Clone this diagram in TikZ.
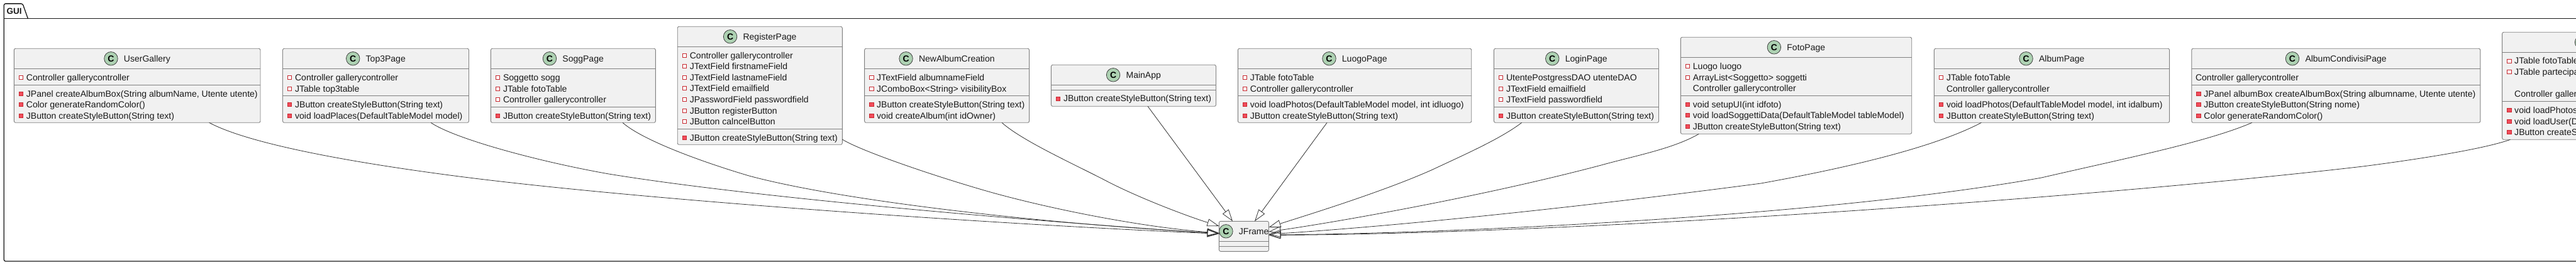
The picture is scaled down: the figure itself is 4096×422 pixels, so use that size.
\documentclass[tikz,border=0pt]{standalone}
\usepackage{fontspec}
\setmainfont{Liberation Sans}
\usetikzlibrary{arrows.meta}
\definecolor{boxfill}{HTML}{F1F1F1}
\definecolor{boxline}{HTML}{808080}
\definecolor{spot}{HTML}{ADD1B2}
\definecolor{privline}{HTML}{C82930}
\definecolor{privfill}{HTML}{F24D5C}
\definecolor{edgecol}{HTML}{333333}
\newcount\memn
\newcommand{\cls}[8]{% name x1 y1 x2 y2 title sep1 sep2
  \pgfmathsetmacro{\boxw}{#4-#2}\pgfmathsetmacro{\boxh}{#5-#3}
  \node[classbox,anchor=north west,minimum width=\boxw pt,minimum height=\boxh pt] (#1) at (#2,#3) {};
  \draw[compart] (#2,#7) -- (#4,#7);
  \draw[compart] (#2,#8) -- (#4,#8);
  \pgfmathsetmacro{\ccx}{(#2+#4)/2}\pgfmathsetmacro{\tty}{#3+21.3}
  \node[txt,anchor=base,font=\fontsize{14}{16}\selectfont] (#1title) at (\ccx,\tty) {\hspace*{31.5pt}#6};
  \node[spotc] (#1spot) at ([xshift=11pt,yshift=5.3pt]#1title.base west) {C};
}
% x1, row centre in 3x crop rows, kind (0 none indented, 1 hollow, 2 filled, 3 none flush), text
\newcommand{\mem}[4]{%
  \global\advance\memn by 1
  \pgfmathsetmacro{\cy}{#2/3}
  \pgfmathsetmacro{\by}{\cy+4.8}
  \pgfmathsetmacro{\ix}{#1+11.2}
  \ifnum#3=1 \path[privh] (\ix-3.2,\cy-3) rectangle (\ix+3.2,\cy+3);\fi
  \ifnum#3=2 \path[privf] (\ix-3.2,\cy-3) rectangle (\ix+3.2,\cy+3);\fi
  \ifnum#3=3 \pgfmathsetmacro{\tx}{#1+6.2}\else\pgfmathsetmacro{\tx}{#1+19.6}\fi
  \node[txt] (mem\the\memn) at (\tx,\by) {#4};
}
\tikzset{
  classbox/.style={draw=boxline,fill=boxfill,line width=0.9pt,rounded corners=2.5pt,inner sep=0pt,outer sep=0pt},
  compart/.style={draw=boxline,line width=0.9pt},
  spotc/.style={circle,draw=black!75,line width=0.8pt,fill=spot,minimum size=21.5pt,inner sep=0pt,font=\fontsize{14}{16}\bfseries\selectfont},
  txt/.style={anchor=base west,inner sep=0pt,outer sep=0pt,font=\fontsize{14.05}{16}\selectfont,text=black!90},
  privh/.style={draw=privline,line width=0.9pt,fill=white},
  privf/.style={draw=privline,line width=0.9pt,fill=privfill},
  pkg/.style={draw=black!90,line width=1.3pt},
  edge/.style={draw=edgecol,line width=0.8pt,-{Triangle[open,length=19pt,width=12pt,line width=0.8pt]}}
}
\begin{document}
\begin{tikzpicture}[x=1pt,y=-1pt]
\useasboundingbox (0,0) rectangle (4096,422);
\fill[white] (0,0) rectangle (4096,422);
\clip (0,0) rectangle (4096,422);
% package
\draw[pkg] (4120,29.3) -- (6.3,29.3);
\draw[pkg,rounded corners=2.5pt] (6.3,29.3) -- (6.3,416) -- (4120,416);
\draw[pkg,rounded corners=2.5pt] (6.3,29.3) -- (6.3,5.9) -- (36,5.9) -- (44.3,29.3);
\node[txt,font=\fontsize{13.5}{16}\bfseries\selectfont] (pkgname) at (10.7,22.7) {GUI};
% classes
\cls{UserGallery}{22.3}{77.3}{414}{195.3}{UserGallery}{109.3}{135.3}
\mem{22.3}{370}{1}{Controller gallerycontroller}
\mem{22.3}{448}{2}{JPanel createAlbumBox(String albumName, Utente utente)}
\mem{22.3}{499}{2}{Color generateRandomColor()}
\mem{22.3}{553}{2}{JButton createStyleButton(String text)}
\cls{TopPage}{449.5}{77.3}{745.5}{195.3}{Top3Page}{109.3}{152.3}
\mem{449.5}{370}{1}{Controller gallerycontroller}
\mem{449.5}{424}{1}{JTable top3table}
\mem{449.5}{499}{2}{JButton createStyleButton(String text)}
\mem{449.5}{553}{2}{void loadPlaces(DefaultTableModel model)}
\cls{SoggPage}{780.4}{77.3}{1042.4}{195.3}{SoggPage}{109.3}{170.3}
\mem{780.4}{370}{1}{Soggetto sogg}
\mem{780.4}{424}{1}{JTable fotoTable}
\mem{780.4}{475}{1}{Controller gallerycontroller}
\mem{780.4}{553}{2}{JButton createStyleButton(String text)}
\cls{RegisterPage}{1077.2}{42.3}{1339.3}{230.3}{RegisterPage}{74.3}{205.3}
\mem{1077.2}{265}{1}{Controller gallerycontroller}
\mem{1077.2}{316}{1}{JTextField firstnameField}
\mem{1077.2}{370}{1}{JTextField lastnameField}
\mem{1077.2}{421}{1}{JTextField emailfield}
\mem{1077.2}{475}{1}{JPasswordField passwordfield}
\mem{1077.2}{529}{1}{JButton registerButton}
\mem{1077.2}{580}{1}{JButton calncelButton}
\mem{1077.2}{658}{2}{JButton createStyleButton(String text)}
\cls{NewAlbumCreation}{1374.6}{77.3}{1636.6}{195.3}{NewAlbumCreation}{109.3}{152.3}
\mem{1374.6}{370}{1}{JTextField albumnameField}
\mem{1374.6}{424}{1}{JComboBox<String> visibilityBox}
\mem{1374.6}{499}{2}{JButton createStyleButton(String text)}
\mem{1374.6}{553}{2}{void createAlbum(int idOwner)}
\cls{MainApp}{1671.4}{103.3}{1933.5}{169.3}{MainApp}{135.3}{143.3}
\mem{1671.4}{471}{2}{JButton createStyleButton(String text)}
\cls{JFrame}{1938.4}{352.3}{2017.4}{400.3}{JFrame}{384.3}{392.3}
\cls{LuogoPage}{1968.3}{77.3}{2339.7}{195.3}{LuogoPage}{109.3}{152.3}
\mem{1968.3}{370}{1}{JTable fotoTable}
\mem{1968.3}{424}{1}{Controller gallerycontroller}
\mem{1968.3}{499}{2}{void loadPhotos(DefaultTableModel model, int idluogo)}
\mem{1968.3}{553}{2}{JButton createStyleButton(String text)}
\cls{LoginPage}{2375.4}{77.3}{2637.5}{195.3}{LoginPage}{109.3}{170.3}
\mem{2375.4}{370}{1}{UtentePostgressDAO utenteDAO}
\mem{2375.4}{424}{1}{JTextField emailfield}
\mem{2375.4}{475}{1}{JTextField passwordfield}
\mem{2375.4}{553}{2}{JButton createStyleButton(String text)}
\cls{FotoPage}{2672.3}{59.3}{3039.7}{213.3}{FotoPage}{91.3}{152.3}
\mem{2672.3}{316}{1}{Luogo luogo}
\mem{2672.3}{370}{1}{ArrayList<Soggetto> soggetti}
\mem{2672.3}{421}{0}{Controller gallerycontroller}
\mem{2672.3}{499}{2}{void setupUI(int idfoto)}
\mem{2672.3}{550}{2}{void loadSoggettiData(DefaultTableModel tableModel)}
\mem{2672.3}{604}{2}{JButton createStyleButton(String text)}
\cls{AlbumPage}{3075.4}{77.3}{3449.6}{195.3}{AlbumPage}{109.3}{152.3}
\mem{3075.4}{370}{1}{JTable fotoTable}
\mem{3075.4}{424}{0}{Controller gallerycontroller}
\mem{3075.4}{499}{2}{void loadPhotos(DefaultTableModel model, int idalbum)}
\mem{3075.4}{553}{2}{JButton createStyleButton(String text)}
\cls{AlbumCondivisiPage}{3484.8}{77.3}{3943.8}{195.3}{AlbumCondivisiPage}{109.3}{135.3}
\mem{3484.8}{370}{3}{Controller gallerycontroller}
\mem{3484.8}{448}{2}{JPanel albumBox createAlbumBox(String albumname, Utente utente)}
\mem{3484.8}{499}{2}{JButton createStyleButton(String nome)}
\mem{3484.8}{553}{2}{Color generateRandomColor()}
% class running past the right edge of the picture
\node[classbox,anchor=north west,minimum width=340pt,minimum height=171pt] (LastPage) at (3978.6,51.3) {};
\draw[compart] (3978.6,83.3) -- (4320,83.3);
\draw[compart] (3978.6,161.3) -- (4320,161.3);
\node[spotc] (LastPagespot) at (4105,67.3) {C};
\mem{3978.6}{291}{1}{JTable fotoTable}
\mem{3978.6}{343}{1}{JTable partecipanti}
\mem{3978.6}{448}{0}{Controller gallerycontroller}
\mem{3978.6}{526}{2}{void loadPhotos(DefaultTableModel model)}
\mem{3978.6}{580}{2}{void loadUser(DefaultTableModel model)}
\mem{3978.6}{631}{2}{JButton createStyleButton(String text)}
% inheritance edges
\draw[edge] ([xshift=310.3pt]UserGallery.south west) .. controls (390,226) and (530,254) .. (700,277) .. controls (1000,318) and (1600,358) .. ([yshift=-20pt]JFrame.north west);
\draw[edge] ([xshift=235.5pt]TopPage.south west) .. controls (725,222) and (860,258) .. (968,277) .. controls (1200,315) and (1640,352) .. ([yshift=-19.7pt]JFrame.north west);
\draw[edge] ([xshift=209.6pt]SoggPage.south west) .. controls (1020,222) and (1110,256) .. (1191,280) .. controls (1340,320) and (1650,355) .. ([yshift=-19.4pt]JFrame.north west);
\draw[edge] ([yshift=8.3pt]RegisterPage.south east) .. controls (1370,241) and (1490,282) .. (1578.6,307) .. controls (1680,335) and (1820,362) .. ([yshift=-18.7pt]JFrame.north west);
\draw[edge] ([xshift=218.4pt]NewAlbumCreation.south west) .. controls (1625,224) and (1707,261) .. (1757,287) .. controls (1810,315) and (1890,345) .. ([yshift=-7.7pt]JFrame.north west);
\draw[edge] ([xshift=153.6pt]MainApp.south west) -- ([xshift=21.6pt]JFrame.north west);
\draw[edge] ([xshift=141.7pt]LuogoPage.south west) -- ([xshift=-22.4pt]JFrame.north east);
\draw[edge] ([xshift=44.2pt]LoginPage.south west) .. controls (2385,222) and (2320,250) .. (2278,270) .. controls (2200,305) and (2080,342) .. ([yshift=-9.7pt]JFrame.north east);
\draw[edge] ([xshift=29pt]FotoPage.south west) .. controls (2660,237) and (2600,248) .. (2546,263) .. controls (2350,315) and (2110,356) .. ([yshift=-16.7pt]JFrame.north east);
\draw[edge] ([xshift=75pt]AlbumPage.south west) .. controls (3100,222) and (3000,256) .. (2800,292) .. controls (2550,325) and (2250,358) .. ([yshift=-20.7pt]JFrame.north east);
\draw[edge] ([xshift=96pt]AlbumCondivisiPage.south west) .. controls (3510,226) and (3380,252) .. (3246,283) .. controls (2900,345) and (2300,372) .. ([yshift=-21.7pt]JFrame.north east);
\draw[edge] ([xshift=12.9pt]LastPage.south west) .. controls (3950,237) and (3850,253) .. (3757,265) .. controls (3300,318) and (2500,372) .. ([yshift=-22.2pt]JFrame.north east);
\end{tikzpicture}
\end{document}
